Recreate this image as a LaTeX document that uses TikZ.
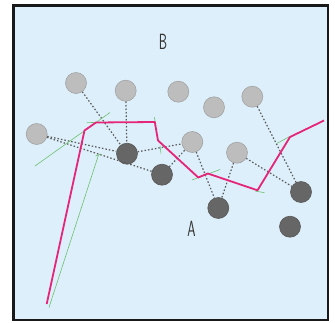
\documentclass[tikz,border=0pt]{standalone}
\usepackage{tikz}
\definecolor{bgblue}{HTML}{DDEFFA}
\definecolor{lightc}{HTML}{BDBDBD}
\definecolor{lightb}{HTML}{A3A3A3}
\definecolor{darkc}{HTML}{666666}
\definecolor{darkb}{HTML}{585858}
\definecolor{pinkl}{HTML}{E5257A}
\definecolor{greenl}{HTML}{6CC070}
\definecolor{dotc}{HTML}{5A5A5A}
\begin{document}
\begin{tikzpicture}[x=1pt,y=-1pt,
  lightnode/.style={circle,fill=lightc,draw=lightb,line width=0.6pt,minimum size=21pt,inner sep=0pt},
  darknode/.style={circle,fill=darkc,draw=darkb,line width=0.6pt,minimum size=21pt,inner sep=0pt},
  link/.style={dotc,line width=1.2pt,dash pattern=on 1.5pt off 2pt},
  pinkpath/.style={pinkl,line width=1.8pt,line join=round},
  greenseg/.style={greenl,line width=0.6pt},
  letter/.style={font=\fontsize{22}{22}\selectfont\sffamily,text=black!80,xscale=0.6,transform shape,inner sep=0pt}]
\useasboundingbox (0,0) rectangle (335,322);
\fill[white] (0,0) rectangle (335,322);
\fill[bgblue] (13.5,5.5) rectangle (328,320);
% labels
\node[letter] (B) at (163,42) {B};
\node[letter] (A) at (191.5,228.5) {A};
% light circles
\node[lightnode] (L1) at (76,83) {};
\node[lightnode] (L2) at (125.7,90.7) {};
\node[lightnode] (L3) at (178.3,91.7) {};
\node[lightnode] (L4) at (214,107.3) {};
\node[lightnode] (L5) at (252.3,96.7) {};
\node[lightnode] (L6) at (36.7,134) {};
\node[lightnode] (L7) at (192.3,142) {};
\node[lightnode] (L8) at (237,152.7) {};
% dark circles
\node[darknode] (D1) at (127,153.7) {};
\node[darknode] (D2) at (162,174.7) {};
\node[darknode] (D3) at (218.3,208) {};
\node[darknode] (D4) at (301,192) {};
\node[darknode] (D5) at (290,226.7) {};
% dotted links
\draw[link] (L1) -- (D1);
\draw[link] (L2) -- (D1);
\draw[link] (L6) -- (D1);
\draw[link] (L6) -- (D2);
\draw[link] (D1) -- (L7);
\draw[link] (D2) -- (L7);
\draw[link] (L7) -- (D3);
\draw[link] (L8) -- (D3);
\draw[link] (L8) -- (D4);
\draw[link] (L5) -- (D4);
% green segments
\draw[greenseg] (35,166) -- (110,112.5);
\draw[greenseg] (49,307.5) -- (98.5,155);
\draw[greenseg] (95.5,156) -- (101,154);
\draw[greenseg] (86.7,122.7) -- (98,122.3);
\draw[greenseg] (154.3,117) -- (155.8,125);
\draw[greenseg] (160,145.5) -- (161,153.5);
\draw[greenseg] (192,180) -- (220,169.5);
\draw[greenseg] (255,191) -- (264.5,192.7);
\draw[greenseg] (276.7,143.5) -- (290.7,136);
% pink path
\draw[pinkpath] (46.7,304) -- (84.5,130.5) -- (96,122.5) -- (154.8,122) -- (158,140.5) -- (198.3,177.5) -- (207.8,173.5) -- (257.5,190.3) -- (290,137) -- (324,120.5);
% frame
\draw[black!90,line width=2.4pt] (13.5,5.5) rectangle (328,320);
\end{tikzpicture}
\end{document}
